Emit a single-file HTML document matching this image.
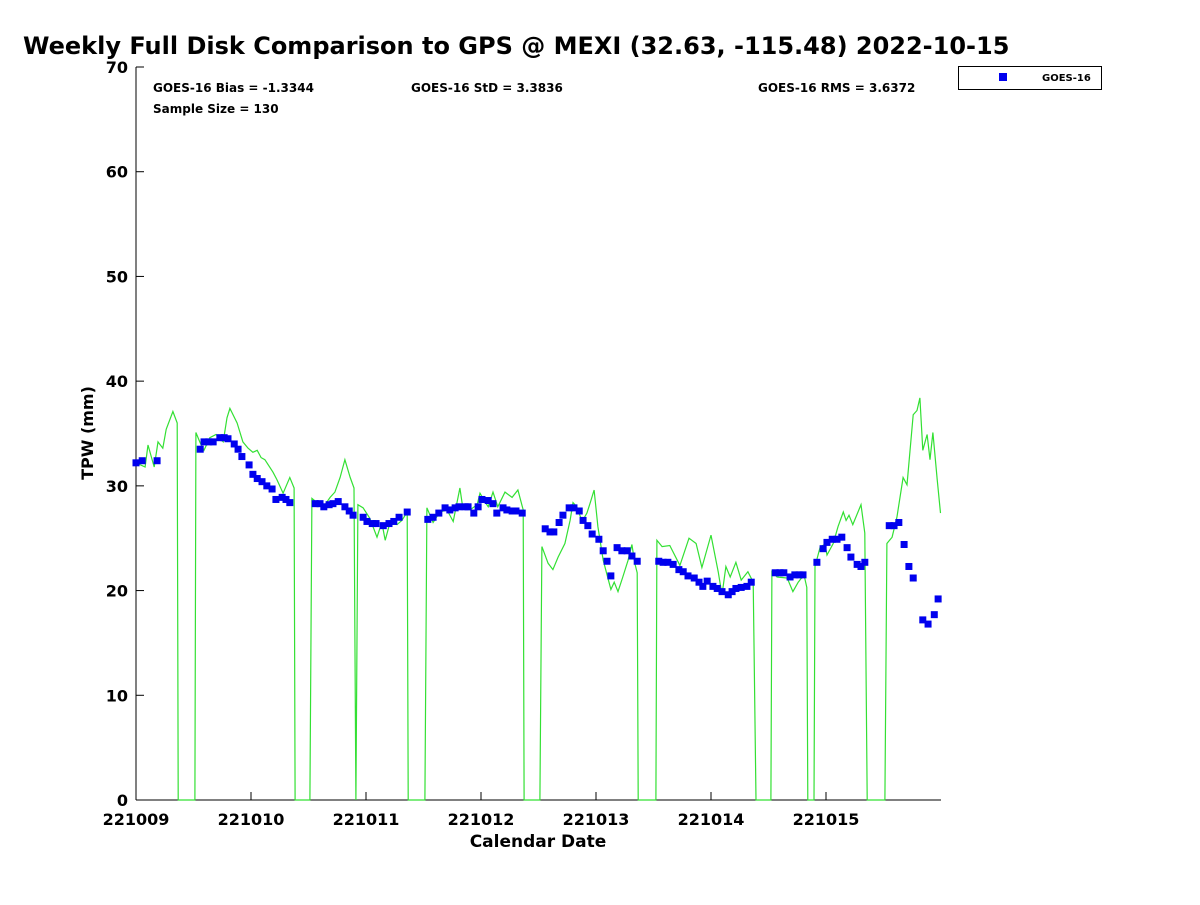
<!DOCTYPE html>
<html><head><meta charset="utf-8"><style>
body{margin:0;background:#fff;}
svg text{font-family:"DejaVu Sans","Liberation Sans",sans-serif;font-weight:bold;}
</style></head><body>
<svg id="chart" width="1200" height="900" xmlns="http://www.w3.org/2000/svg">
<rect width="1200" height="900" fill="#fff"/>
<text x="23" y="54" font-size="24">Weekly Full Disk Comparison to GPS @ MEXI (32.63, -115.48) 2022-10-15</text>
<g id="axes"></g>
<g id="gps-line"></g>
<g id="goes-points"></g>
<text x="153" y="92" font-size="12">GOES-16 Bias = -1.3344</text>
<text x="411" y="92" font-size="12">GOES-16 StD = 3.3836</text>
<text x="758" y="92" font-size="12">GOES-16 RMS = 3.6372</text>
<text x="153" y="113" font-size="12">Sample Size = 130</text>
<g>
<rect x="958.5" y="66.5" width="143" height="23" fill="#fff" stroke="#000" stroke-width="1"/>
<rect x="999" y="73" width="8" height="8" fill="#0000ee"/>
<text x="1042" y="81" font-size="10">GOES-16</text>
</g>
<text x="538" y="847" font-size="17" text-anchor="middle">Calendar Date</text>
<text x="0" y="0" font-size="16" text-anchor="middle" transform="translate(93,433) rotate(-90)">TPW (mm)</text>
</svg>
<script>
const xTickLabels=["221009","221010","221011","221012","221013","221014","221015"];
const yTickValues=[0,10,20,30,40,50,60,70];
const gpsHours=[0,1.9,2.5,3.8,4.6,5.6,6.3,7.7,8.6,8.8,12.3,12.5,13.4,14.2,15.4,16.7,18.2,19.0,19.6,21.1,22.3,23.4,24.4,25.3,26.1,26.9,28.6,29.4,30.7,32.1,33.0,33.2,36.3,36.7,37.8,39.0,40.5,41.5,42.6,43.6,44.7,45.5,45.9,46.3,47.4,48.8,50.3,51.3,52.0,53.0,54.5,55.5,56.6,56.8,60.3,60.7,62.0,63.4,64.9,66.2,67.6,68.2,69.7,71.2,71.8,72.8,73.5,74.5,75.5,77.0,78.5,79.7,80.8,81.0,84.3,84.7,86.0,87.0,88.1,89.5,90.6,91.2,92.0,93.1,94.1,94.8,95.6,96.4,97.5,99.1,99.8,100.6,101.6,102.7,103.5,104.1,104.6,104.8,108.5,108.7,109.8,111.4,113.5,115.4,116.9,118.1,120.0,121.5,122.3,123.1,124.0,125.2,126.3,127.7,128.8,129.4,132.5,132.7,133.8,135.9,137.1,138.2,139.4,140.0,140.2,141.5,141.7,142.8,143.8,144.2,145.5,146.5,147.6,148.2,148.8,149.6,151.3,152.1,152.6,156.3,156.7,157.8,158.8,160.1,160.9,162.2,163.0,163.6,164.2,165.1,165.7,166.3,167.2,167.9];
const gpsTpw=[32.2,31.8,33.9,31.8,34.2,33.6,35.4,37.1,36.0,0,0,35.1,34.1,33.4,34.6,34.9,34.2,36.5,37.4,36.0,34.2,33.6,33.2,33.4,32.7,32.5,31.3,30.6,29.3,30.8,29.8,0,0,28.8,28.4,27.9,28.9,29.4,30.8,32.5,30.8,29.8,0,28.2,27.9,26.9,25.1,26.5,24.8,26.5,26.3,26.7,27.5,0,0,27.9,26.5,27.5,27.7,26.6,29.8,27.9,27.7,28.2,29.3,28.5,28.0,29.4,28.0,29.4,28.9,29.6,27.7,0,0,24.2,22.6,22.0,23.2,24.5,26.7,28.4,28.0,26.6,27.4,28.4,29.6,26.1,22.9,20.1,20.8,19.9,21.3,22.9,24.4,22.6,21.7,0,0,24.8,24.2,24.3,22.4,25.0,24.5,22.2,25.3,21.8,19.6,22.3,21.3,22.7,21.0,21.8,20.8,0,0,21.8,21.3,21.2,19.9,20.8,21.5,20.3,0,0,22.3,24.2,24.4,23.4,24.5,26.1,27.5,26.7,27.2,26.3,28.2,25.5,0,0,24.5,25.1,27.0,30.8,30.1,36.8,37.2,38.4,33.4,34.9,32.5,35.1,30.6,27.4];
const goesHours=[0.0,1.3,4.4,13.4,14.2,15.2,16.1,17.5,18.4,19.2,20.5,21.3,22.1,23.6,24.4,25.3,26.3,27.3,28.4,29.2,30.5,31.3,32.1,37.4,38.4,39.2,40.3,41.1,42.2,43.6,44.5,45.3,47.4,48.2,49.3,50.1,51.6,52.8,53.8,54.9,56.6,60.9,62.0,63.2,64.5,65.5,66.6,67.4,68.7,69.3,70.5,71.4,72.2,73.5,74.5,75.3,76.6,77.4,78.5,79.3,80.6,85.4,86.4,87.2,88.3,89.1,90.4,91.4,92.5,93.3,94.3,95.2,96.6,97.5,98.3,99.1,100.4,101.4,102.5,103.5,104.6,109.1,110.0,111.0,112.1,113.3,114.2,115.2,116.5,117.5,118.3,119.2,120.4,121.3,122.3,123.6,124.4,125.2,126.3,127.5,128.4,133.4,134.4,135.2,136.5,137.5,138.4,139.2,142.1,143.4,144.2,145.3,146.3,147.3,148.4,149.2,150.5,151.3,152.1,157.2,158.2,159.2,160.3,161.3,162.2,164.2,165.3,166.6,167.4];
const goesTpw=[32.2,32.4,32.4,33.5,34.2,34.2,34.2,34.6,34.6,34.5,34.0,33.5,32.8,32.0,31.1,30.7,30.4,30.0,29.7,28.7,28.9,28.7,28.4,28.3,28.3,28.0,28.2,28.3,28.5,28.0,27.6,27.2,27.0,26.6,26.4,26.4,26.2,26.4,26.6,27.0,27.5,26.8,27.0,27.4,27.9,27.7,27.9,28.0,28.0,28.0,27.4,28.0,28.7,28.6,28.3,27.4,27.9,27.7,27.6,27.6,27.4,25.9,25.6,25.6,26.5,27.2,27.9,27.9,27.6,26.7,26.2,25.4,24.9,23.8,22.8,21.4,24.1,23.8,23.8,23.3,22.8,22.8,22.7,22.7,22.5,22.0,21.8,21.4,21.2,20.8,20.4,20.9,20.4,20.2,19.9,19.6,19.9,20.2,20.3,20.4,20.8,21.7,21.7,21.7,21.3,21.5,21.5,21.5,22.7,24.0,24.6,24.9,24.9,25.1,24.1,23.2,22.5,22.3,22.7,26.2,26.2,26.5,24.4,22.3,21.2,17.2,16.8,17.7,19.2];

const NS="http://www.w3.org/2000/svg";
const L=136,R=941,T=67,B=800;
function xScale(h){return L+(R-L)*h/168;}
function yScale(v){return B-(B-T)*v/70;}
function mk(tag,attrs,parent){const e=document.createElementNS(NS,tag);for(const k in attrs)e.setAttribute(k,attrs[k]);parent.appendChild(e);return e;}
const ax=document.getElementById('axes');
let a=mk('line',{x1:L,y1:T,x2:L,y2:B,stroke:'#000','stroke-width':1},ax);


a=mk('line',{x1:L,y1:B,x2:R,y2:B,stroke:'#000','stroke-width':1},ax);


yTickValues.forEach(v=>{
 const y=yScale(v);
 const t=mk('line',{x1:L,y1:y,x2:L+8,y2:y,stroke:'#000'},ax);
 
 
 const tx=mk('text',{x:L-8,y:y+6,'font-size':16,'text-anchor':'end'},ax);
 tx.textContent=v;
 
 
});
xTickLabels.forEach((lab,i)=>{
 const x=xScale(i*24);
 const t=mk('line',{x1:x,y1:B,x2:x,y2:B-8,stroke:'#000'},ax);
 
 
 const tx=mk('text',{x:x,y:B+25,'font-size':16,'text-anchor':'middle'},ax);
 tx.textContent=lab;
 
 
});
const gl=document.getElementById('gps-line');
const pts=gpsHours.map((h,i)=>xScale(h).toFixed(1)+','+yScale(gpsTpw[i]).toFixed(1)).join(' ');
const pl=mk('polyline',{points:pts,fill:'none',stroke:'#33e033','stroke-width':1.2},gl);


const gp=document.getElementById('goes-points');
goesHours.forEach((h,i)=>{
 const r=mk('rect',{x:xScale(h)-3.5,y:yScale(goesTpw[i])-3.5,width:7,height:7,fill:'#0000ee'},gp);
 
 
});
</script>
</body></html>
